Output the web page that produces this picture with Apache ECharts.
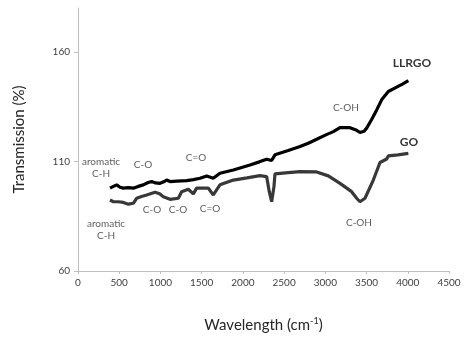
<!DOCTYPE html>
<html>
<head>
<meta charset="utf-8">
<script src="https://cdn.jsdelivr.net/npm/echarts@6/dist/echarts.min.js"></script>
<style>
  html, body { margin: 0; padding: 0; background: #fff; }
  #chart-container { width: 474px; height: 351px; }
</style>
</head>
<body>
<div id="chart-container"></div>
<script>
// FTIR spectra: [wavenumber, transmission]
const llrgoData = [
    [388, 97.8], [430, 98.6], [469, 99.3], [510, 98.2], [550, 97.8], [610, 98.0],
    [671, 97.8], [730, 98.6], [792, 99.3], [850, 100.4], [893, 100.8], [940, 100.2],
    [995, 100.0], [1040, 100.7], [1075, 101.5], [1116, 100.8], [1200, 101.0],
    [1318, 101.2], [1400, 101.7], [1480, 102.3], [1561, 103.4], [1641, 102.3],
    [1722, 104.6], [1884, 106.1], [2086, 108.4], [2200, 109.8], [2288, 111.0],
    [2349, 110.4], [2389, 113.0], [2550, 115.0], [2693, 116.8], [2800, 118.4],
    [2895, 120.1], [3000, 122.0], [3097, 123.6], [3178, 125.4], [3299, 125.4],
    [3380, 124.2], [3420, 123.2], [3470, 123.8], [3501, 125.2], [3560, 129.0],
    [3623, 133.5], [3683, 138.1], [3764, 141.9], [3865, 143.9], [3940, 145.4],
    [4007, 146.9]
];
const goData = [
    [388, 92.4], [429, 91.6], [490, 91.6], [550, 91.3], [611, 90.5], [671, 90.9],
    [712, 93.2], [770, 94.0], [833, 94.7], [934, 95.9], [990, 95.2], [1035, 93.9],
    [1116, 92.7], [1217, 93.2], [1257, 96.2], [1338, 97.3], [1399, 95.2],
    [1439, 97.8], [1581, 97.8], [1641, 94.7], [1722, 99.3], [1884, 101.5],
    [2050, 102.5], [2207, 103.5], [2288, 103.1], [2320, 96.2], [2349, 91.6],
    [2377, 98.5], [2389, 104.3], [2550, 104.9], [2693, 105.3], [2895, 105.2],
    [3036, 103.4], [3178, 100.0], [3319, 96.2], [3380, 93.2], [3420, 91.6],
    [3481, 93.2], [3582, 101.5], [3663, 109.5], [3744, 111.1], [3764, 112.5],
    [3880, 113.0], [4007, 113.7]
];

// band / series annotations: [x, y, text]
const peakLabels = [
    [279, 107.3, "aromatic\nC-H"],
    [788, 108.4, "C-O"],
    [1431, 111.6, "C=O"],
    [3250, 134.4, "C-OH"],
    [898, 87.9, "C-O"],
    [1213, 87.9, "C-O"],
    [1601, 88.3, "C=O"],
    [340, 79.0, "aromatic\nC-H"],
    [3408, 81.9, "C-OH"]
];
const seriesLabels = [
    [4051, 155.0, "LLRGO"],
    [4015, 118.9, "GO"]
];

const xTicks = [0, 500, 1000, 1500, 2000, 2500, 3000, 3500, 4000, 4500];
const yTicks = [60, 110, 160];

const chart = echarts.init(document.getElementById("chart-container"));

const options = {
    animation: false,
    textStyle: { fontFamily: "Lato" },
    grid: {
        left: 78,
        right: 25,
        top: 8,
        bottom: 80
    },
    xAxis: {
        type: "value",
        min: 0,
        max: 4500,
        interval: 500,
        name: "Wavelength (cm{sup|-1})",
        nameLocation: "middle",
        nameGap: 46,
        nameTextStyle: {
            fontSize: 15,
            color: "#262626",
            rich: {
                sup: { fontSize: 9, verticalAlign: "top", padding: [0, 0, 8, 0], color: "#262626" }
            }
        },
        splitLine: { show: false },
        axisLine: { show: true, lineStyle: { color: "#bfbfbf", width: 1 } },
        axisTick: { show: true, length: 3, lineStyle: { color: "#bfbfbf" }, customValues: xTicks },
        axisLabel: {
            fontSize: 10,
            color: "#404040",
            margin: 7,
            customValues: xTicks,
            formatter: (v) => String(v)
        }
    },
    yAxis: {
        type: "value",
        min: 60,
        max: 180,
        interval: 50,
        name: "Transmission (%)",
        nameLocation: "middle",
        nameGap: 51,
        nameRotate: 90,
        nameTextStyle: { fontSize: 15, color: "#262626" },
        splitLine: { show: false },
        axisLine: { show: true, lineStyle: { color: "#bfbfbf", width: 1 } },
        axisTick: { show: true, length: 4, lineStyle: { color: "#bfbfbf" }, customValues: yTicks },
        axisLabel: {
            fontSize: 10,
            color: "#404040",
            margin: 8,
            customValues: yTicks,
            formatter: (v) => String(v)
        }
    },
    series: [
        {
            name: "LLRGO",
            type: "line",
            data: llrgoData,
            showSymbol: false,
            lineStyle: { color: "#000000", width: 3.2 }
        },
        {
            name: "GO",
            type: "line",
            data: goData,
            showSymbol: false,
            lineStyle: { color: "#383838", width: 3.2 }
        },
        {
            name: "peaks",
            type: "scatter",
            symbolSize: 0,
            data: peakLabels.map((p) => ({ value: [p[0], p[1]], name: p[2] })),
            label: {
                show: true,
                position: "inside",
                formatter: (p) => p.name,
                fontSize: 10,
                lineHeight: 12,
                color: "#333333",
                align: "center"
            },
            silent: true
        },
        {
            name: "names",
            type: "scatter",
            symbolSize: 0,
            data: seriesLabels.map((p) => ({ value: [p[0], p[1]], name: p[2] })),
            label: {
                show: true,
                position: "inside",
                formatter: (p) => p.name,
                fontSize: 12,
                fontWeight: "bold",
                color: "#000000"
            },
            silent: true
        }
    ]
};

chart.setOption(options);
</script>
</body>
</html>
